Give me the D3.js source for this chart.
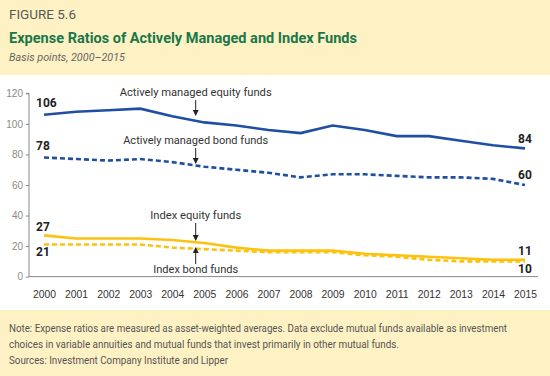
<!DOCTYPE html>
<html>
<head>
<meta charset="utf-8">
<script src="https://cdn.jsdelivr.net/npm/d3@7"></script>
<style>
  body { margin: 0; background: #fef2c4; }
  svg { display: block; font-family: "Roboto", "Liberation Sans", sans-serif; }
</style>
</head>
<body>
<svg id="chart" width="550" height="376"></svg>
<script>
// ---- data ----
var years = d3.range(2000, 2016)
var activeEquity = [106, 108, 109, 110, 105, 101, 99, 96, 94, 99, 96, 92, 92, 89, 86, 84]
var activeBond   = [78, 77, 76, 77, 75, 72, 70, 68, 65, 67, 67, 66, 65, 65, 64, 60]
var indexEquity  = [27, 25, 25, 25, 24, 22, 19, 17, 17, 17, 15, 14, 13, 12, 11, 11]
var indexBond    = [21, 21, 21, 21, 19, 18, 17, 16, 16, 16, 14, 13, 11, 10, 10, 10]
var yTicks = [0, 20, 40, 60, 80, 100, 120]

var series = [
  { name: "Actively managed equity funds", values: activeEquity, color: "#1f4fa3", dash: null },
  { name: "Actively managed bond funds",   values: activeBond,   color: "#1f4fa3", dash: "5,3" },
  { name: "Index equity funds",            values: indexEquity,  color: "#fcc20f", dash: null },
  { name: "Index bond funds",              values: indexBond,    color: "#fcc20f", dash: "5,3" }
]

var svg = d3.select("#chart")

// squeeze a text to the width it has in the reference (condensed face)
function fit(sel, w) {
  return sel.attr("textLength", w).attr("lengthAdjust", "spacingAndGlyphs")
}

// ---- background bands ----
svg.append("rect").attr("x", 0).attr("y", 0).attr("width", 550).attr("height", 376).attr("fill", "#fef2c4")
svg.append("rect").attr("x", 0).attr("y", 75).attr("width", 550).attr("height", 235).attr("fill", "#ffffff")

// ---- header ----
fit(svg.append("text").attr("x", 9).attr("y", 19)
  .attr("font-size", 13.5).attr("fill", "#58595b").text("FIGURE 5.6"), 67)
fit(svg.append("text").attr("x", 9).attr("y", 43)
  .attr("font-size", 15.5).attr("font-weight", "bold").attr("fill", "#19774a")
  .text("Expense Ratios of Actively Managed and Index Funds"), 348)
fit(svg.append("text").attr("x", 9).attr("y", 61)
  .attr("font-size", 11).attr("font-style", "italic").attr("fill", "#666")
  .text("Basis points, 2000\u20132015"), 116)

// ---- scales ----
var x = d3.scalePoint().domain(years).range([44, 525])
var y = d3.scaleLinear().domain([0, 120]).range([276.6, 93.4])

// ---- axes ----
var yAxis = svg.append("g").attr("transform", "translate(29,0)")
  .call(d3.axisLeft(y).tickValues(yTicks).tickSize(3).tickPadding(3))
yAxis.select(".domain").attr("stroke", "#888").attr("d", "M-3," + y(120) + "H0V" + y(0))
yAxis.selectAll(".tick line").attr("stroke", "#888")
yAxis.selectAll(".tick text").attr("fill", "#8a8a8a").attr("font-size", 10)
  .attr("font-family", "inherit")

var xAxis = svg.append("g").attr("transform", "translate(0," + y(0) + ")")
  .call(d3.axisBottom(x).tickSize(0).tickPadding(13))
xAxis.select(".domain").attr("stroke", "#888").attr("d", "M29,0H538")
xAxis.selectAll(".tick text").attr("fill", "#333").attr("font-size", 11.5)
  .attr("font-family", "inherit").attr("textLength", 23).attr("lengthAdjust", "spacingAndGlyphs")

// ---- lines ----
var line = d3.line()
  .x(function (d, i) { return x(years[i]) })
  .y(function (d) { return y(d) })

svg.selectAll(".series").data(series).enter().append("path")
  .attr("class", "series")
  .attr("fill", "none")
  .attr("stroke", function (d) { return d.color })
  .attr("stroke-width", 2.6)
  .attr("stroke-dasharray", function (d) { return d.dash })
  .attr("d", function (d) { return line(d.values) })

// ---- end labels ----
var startDy = [-8, -8, -4, 11]
var endDy = [-5, -6, -5, 12]
series.forEach(function (s, k) {
  var first = s.values[0], last = s.values[s.values.length - 1]
  svg.append("text").attr("x", 36).attr("y", y(first) + startDy[k])
    .attr("font-size", 12).attr("font-weight", "bold").attr("fill", "#222")
    .text(first)
  svg.append("text").attr("x", 518).attr("y", y(last) + endDy[k])
    .attr("font-size", 12).attr("font-weight", "bold").attr("fill", "#222")
    .text(last)
})

// ---- annotations with arrows ----
var ax = 195.7
var notes = [
  { text: series[0].name, ty: 96,  a1: 100, a2: 115, w: 152 },
  { text: series[1].name, ty: 144, a1: 148, a2: 163, w: 145 },
  { text: series[2].name, ty: 219, a1: 223, a2: 240, w: 91 },
  { text: series[3].name, ty: 273, a1: 264, a2: 248, w: 85 }
]
svg.append("defs").append("marker").attr("id", "arr").attr("viewBox", "0 0 6 6")
  .attr("refX", 5).attr("refY", 3).attr("markerWidth", 6).attr("markerHeight", 6)
  .attr("orient", "auto")
  .append("path").attr("d", "M0,0L6,3L0,6Z").attr("fill", "#222")

notes.forEach(function (n) {
  fit(svg.append("text").attr("x", ax).attr("y", n.ty)
    .attr("text-anchor", "middle").attr("font-size", 11.5).attr("fill", "#333")
    .text(n.text), n.w)
  svg.append("line").attr("x1", ax).attr("x2", ax).attr("y1", n.a1).attr("y2", n.a2)
    .attr("stroke", "#222").attr("stroke-width", 1).attr("marker-end", "url(#arr)")
})

// ---- footer ----
var footer = [
  "Note: Expense ratios are measured as asset-weighted averages. Data exclude mutual funds available as investment",
  "choices in variable annuities and mutual funds that invest primarily in other mutual funds.",
  "Sources: Investment Company Institute and Lipper"
]
var footerW = [498, 390, 219]
svg.selectAll(".foot").data(footer).enter().append("text")
  .attr("class", "foot")
  .attr("x", 9).attr("y", function (d, i) { return 332 + i * 16 })
  .attr("font-size", 10.5).attr("fill", "#555")
  .attr("textLength", function (d, i) { return footerW[i] })
  .attr("lengthAdjust", "spacingAndGlyphs")
  .text(function (d) { return d })
</script>
</body>
</html>
